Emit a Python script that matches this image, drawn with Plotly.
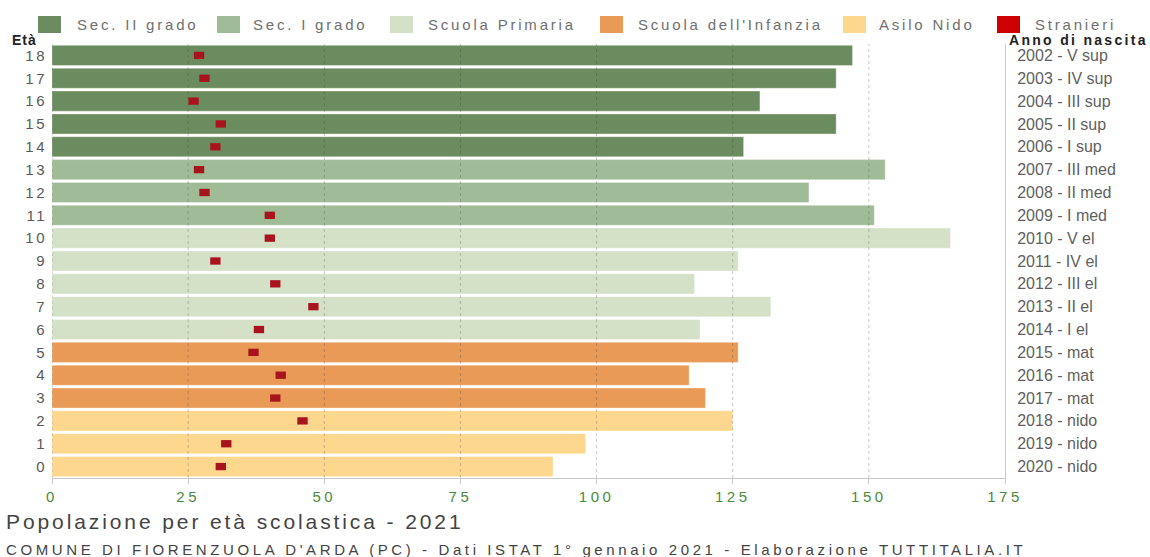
import plotly.graph_objects as go

ages = list(range(19))
totals = [92, 98, 125, 120, 117, 126, 119, 132, 118, 126, 165, 151, 139, 153, 127, 144, 130, 144, 147]
stranieri = [31, 32, 46, 41, 42, 37, 38, 48, 41, 30, 40, 40, 28, 27, 30, 31, 26, 28, 27]
anno = ["2020 - nido", "2019 - nido", "2018 - nido", "2017 - mat", "2016 - mat", "2015 - mat",
        "2014 - I el", "2013 - II el", "2012 - III el", "2011 - IV el", "2010 - V el",
        "2009 - I med", "2008 - II med", "2007 - III med", "2006 - I sup", "2005 - II sup",
        "2004 - III sup", "2003 - IV sup", "2002 - V sup"]
x_ticks = [0, 25, 50, 75, 100, 125, 150, 175]
groups = [
    ("Sec. II grado", [14, 15, 16, 17, 18], "#6b8c5e"),
    ("Sec. I grado", [11, 12, 13], "#a0bc96"),
    ("Scuola Primaria", [6, 7, 8, 9, 10], "#d5e1c7"),
    ("Scuola dell'Infanzia", [3, 4, 5], "#e99a56"),
    ("Asilo Nido", [0, 1, 2], "#fdd78e"),
]
legend_names = [g[0] for g in groups] + ["Stranieri"]
legend_colors = [g[2] for g in groups] + ["#cc0000"]

FONT = "Liberation Sans, Arial, sans-serif"
W, H = 1150, 557
L, R, T, B = 52, 145, 44, 79
PW, PH = W - L - R, H - T - B


def sp(text, ls):
    return f"<span style='letter-spacing:{ls}px'>{text}</span>"


fig = go.Figure()
for name, idx, col in groups:
    fig.add_trace(go.Bar(
        y=[ages[i] for i in idx], x=[totals[i] for i in idx], orientation="h",
        name=name, marker=dict(color=col, line=dict(color="rgba(255,255,255,0.35)", width=1)),
        width=0.88, showlegend=False, hoverinfo="x+y"))

fig.add_trace(go.Bar(
    y=ages, x=[1.9] * len(ages), base=[s - 0.95 for s in stranieri], orientation="h",
    name="Stranieri", marker=dict(color="#a8141e", line=dict(width=0)),
    width=0.32, showlegend=False))

fig.add_trace(go.Scatter(y=ages, x=totals, yaxis="y2", mode="markers",
                         marker=dict(opacity=0), showlegend=False, hoverinfo="skip"))

fig.update_layout(
    width=W, height=H, margin=dict(l=L, r=R, t=T, b=B),
    paper_bgcolor="white", plot_bgcolor="white", barmode="overlay",
    font=dict(family=FONT, color="#555"),
    xaxis=dict(range=[0, 175], tickvals=x_ticks, ticktext=[sp(str(v), 3.5) for v in x_ticks],
               showgrid=False, zeroline=False, showline=True, linecolor="#c8c8c8", linewidth=1,
               ticks="outside", ticklen=5, tickcolor="#c8c8c8",
               tickfont=dict(size=15, color="#4a8a3c", family=FONT)),
    yaxis=dict(range=[-0.5, 18.5], tickvals=ages, ticktext=[sp(str(a), 2.5) for a in ages],
               showgrid=False, zeroline=False, showline=False,
               ticks="", ticklabelstandoff=4, tickfont=dict(size=15, color="#5a5a5a", family=FONT)),
    yaxis2=dict(range=[-0.5, 18.5], overlaying="y", side="right", tickvals=ages,
                ticktext=anno, showgrid=False, zeroline=False, showline=True,
                linecolor="#c8c8c8", ticks="", ticklabelstandoff=8,
                tickfont=dict(size=16, color="#5f5f5f", family=FONT)),
)

# dotted grid drawn above the bars, as in the original
for v in x_ticks[1:-1]:
    fig.add_shape(type="line", xref="x", yref="paper", x0=v, x1=v, y0=0, y1=1,
                  line=dict(color="rgba(60,60,60,0.28)", width=1, dash="dot"), layer="above")
fig.add_shape(type="line", xref="x", yref="paper", x0=0, x1=0, y0=0, y1=1,
              line=dict(color="rgba(90,90,90,0.35)", width=1, dash="dot"), layer="above")


def px(x):
    return (x - L) / PW


def py(y):
    return (H - B - y) / PH


legend_sq_x = [38, 217, 390, 600, 843, 997]
legend_tx_x = [75, 251, 426, 636, 877, 1033]
for name, col, sx, tx in zip(legend_names, legend_colors, legend_sq_x, legend_tx_x):
    fig.add_shape(type="rect", xref="paper", yref="paper",
                  x0=px(sx), x1=px(sx + 23), y0=py(33), y1=py(16),
                  fillcolor=col, line=dict(width=0))
    fig.add_annotation(xref="paper", yref="paper", x=px(tx), y=py(24.5),
                       text=sp(name, 2.8), showarrow=False, xanchor="left", yanchor="middle",
                       font=dict(size=15, color="#707070", family=FONT))

fig.add_annotation(xref="paper", yref="paper", x=px(10), y=py(40), text="<b>" + sp("Età", 1) + "</b>",
                   showarrow=False, xanchor="left", yanchor="middle",
                   font=dict(size=14, color="#222", family=FONT))
fig.add_annotation(xref="paper", yref="paper", x=px(1007), y=py(40),
                   text="<b>" + sp("Anno di nascita", 2.3) + "</b>",
                   showarrow=False, xanchor="left", yanchor="middle",
                   font=dict(size=14, color="#222", family=FONT))
fig.add_annotation(xref="paper", yref="paper", x=px(4), y=py(521),
                   text=sp("Popolazione per età scolastica - 2021", 2.9),
                   showarrow=False, xanchor="left", yanchor="middle",
                   font=dict(size=21, color="#444", family=FONT))
fig.add_annotation(xref="paper", yref="paper", x=px(4), y=py(549),
                   text=sp("COMUNE DI FIORENZUOLA D'ARDA (PC) - Dati ISTAT 1° gennaio 2021 - Elaborazione TUTTITALIA.IT", 3.6),
                   showarrow=False, xanchor="left", yanchor="middle",
                   font=dict(size=15, color="#444", family=FONT))

fig.write_html("out.html", config={"displayModeBar": False},
               post_script="document.body.style.margin='0px';")
